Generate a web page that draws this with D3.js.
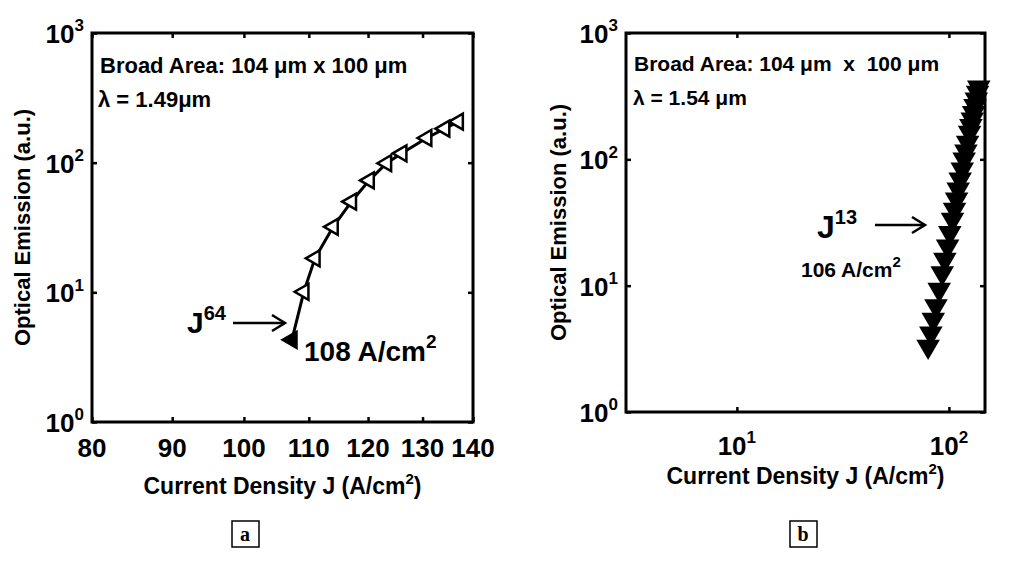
<!DOCTYPE html><html><head><meta charset="utf-8">
<script src="https://cdn.jsdelivr.net/npm/d3@7"></script>
<style>body{margin:0;background:#fff}text{font-family:"Liberation Sans",Arial,sans-serif;font-weight:bold}</style>
</head><body><svg id="c" width="1024" height="562"></svg>
<script>
const leftJ=[107.3,109.2,111,114,117.1,120.2,123.3,126.1,130.8,134.3,137];
const leftE=[4.3,10.1,18.3,32,50,73,99,118,155,183,207];
const rightJ=[79.8,82.2,84.4,86.9,90,93,95.7,98.6,101,104,106.3,108.7,110.6,113,115.6,118,120.3,122.5,125.2,127,128.9,130.8,132.8,134.6,136.5,138.3];
const rightE=[3.3,4.2,5.4,6.9,9.3,12.6,16.1,20.5,26.2,33.4,40.1,48.2,57.8,69.4,83.3,100,116,136,163,184,207,234,265,299,338,371];
const leftXTicks=[80,90,100,110,120,130,140];
const yTicks=[1,10,100,1000];
const rightXTicks=[10,100];

const svg=d3.select("#c");
function sup(sel,base,exp,bs,es){sel.append("tspan").text(base).attr("font-size",bs);sel.append("tspan").text(exp).attr("font-size",es).attr("dy",-bs*0.45);}

function frame(x0,x1,y0,y1,xs,ys,xt,xfmt,ylabX){
  const g=svg.append("g");
  g.append("g").attr("transform",`translate(0,${y1})`).call(d3.axisBottom(xs).tickValues(xt).tickSize(-5).tickFormat(""));
  g.append("g").attr("transform",`translate(0,${y0})`).call(d3.axisTop(xs).tickValues(xt).tickSize(-5).tickFormat(""));
  g.append("g").attr("transform",`translate(${x0},0)`).call(d3.axisLeft(ys).tickValues(yTicks).tickSize(-5).tickFormat(""));
  g.append("g").attr("transform",`translate(${x1},0)`).call(d3.axisRight(ys).tickValues(yTicks).tickSize(-5).tickFormat(""));
  g.selectAll(".domain").remove();
  g.selectAll(".tick line").attr("stroke","#000").attr("stroke-width",2.5);
  g.append("rect").attr("x",x0).attr("y",y0).attr("width",x1-x0).attr("height",y1-y0).attr("fill","none").attr("stroke","#000").attr("stroke-width",3);
  yTicks.forEach((v,i)=>{const t=g.append("text").attr("x",x0-8).attr("y",ys(v)+10).attr("text-anchor","end");sup(t,"10",String(i),26,17);});
  xfmt(g);
  g.append("text").attr("transform",`translate(${ylabX},${(y0+y1)/2}) rotate(-90)`).attr("text-anchor","middle").attr("font-size",22).text("Optical Emission (a.u.)");
  const xl=g.append("text").attr("x",(x0+x1)/2).attr("y",y1+72).attr("text-anchor","middle").attr("font-size",23);
  xl.append("tspan").text("Current Density J (A/cm");xl.append("tspan").text("2").attr("font-size",15).attr("dy",-10);xl.append("tspan").text(")").attr("dy",10);
  return g;
}
// left
const lx=d3.scaleLog().domain([80,140]).range([92,473]);
const ly=d3.scaleLog().domain([1,1000]).range([422,33]);
frame(92,473,33,422,lx,ly,leftXTicks,g=>{leftXTicks.forEach(v=>g.append("text").attr("x",lx(v)).attr("y",457).attr("text-anchor","middle").attr("font-size",26).text(v));},30);
svg.append("path").attr("d",d3.line().x((d,i)=>lx(leftJ[i])).y((d,i)=>ly(leftE[i]))(leftJ)).attr("fill","none").attr("stroke","#000").attr("stroke-width",3);
const tri=d3.symbol().type(d3.symbolTriangle).size(110);
leftJ.forEach((j,i)=>svg.append("path").attr("d",tri()).attr("transform",`translate(${lx(j)},${ly(leftE[i])}) rotate(-90)`).attr("fill",i==0?"#000":"#fff").attr("stroke","#000").attr("stroke-width",2.5));
svg.append("text").attr("x",100).attr("y",73).attr("font-size",22).text("Broad Area: 104 μm x 100 μm");
svg.append("text").attr("x",98).attr("y",107).attr("font-size",22).text("λ = 1.49μm");
const j64=svg.append("text").attr("x",187).attr("y",333);
sup(j64,"J","64",30,20);
svg.append("text").attr("x",304).attr("y",361).attr("font-size",28).call(t=>{t.append("tspan").text("108 A/cm");t.append("tspan").text("2").attr("font-size",19).attr("dy",-13);});
function arrow(x1,x2,y){svg.append("line").attr("x1",x1).attr("x2",x2).attr("y1",y).attr("y2",y).attr("stroke","#000").attr("stroke-width",2.5);
 svg.append("path").attr("d",`M${x2-13},${y-8}L${x2},${y}L${x2-13},${y+8}`).attr("fill","none").attr("stroke","#000").attr("stroke-width",2.5);}
arrow(233,285,323);
// right
const rx=d3.scaleLog().domain([3,148]).range([626,985]);
const ry=d3.scaleLog().domain([1,1000]).range([412,33]);
frame(626,985,33,412,rx,ry,rightXTicks,g=>{rightXTicks.forEach((v,i)=>{const t=g.append("text").attr("x",rx(v)).attr("y",455).attr("text-anchor","middle");sup(t,"10",String(i+1),26,17);});},566);
const tri2=d3.symbol().type(d3.symbolTriangle).size(240);
rightJ.forEach((j,i)=>svg.append("path").attr("d",tri2()).attr("transform",`translate(${rx(j)},${ry(rightE[i])}) rotate(180)`).attr("fill","#000"));
svg.append("text").attr("x",634).attr("y",71).attr("font-size",21).attr("xml:space","preserve").text("Broad Area: 104 μm  x  100 μm");
svg.append("text").attr("x",633).attr("y",105).attr("font-size",21).text("λ = 1.54 μm");
const j13=svg.append("text").attr("x",817).attr("y",238);sup(j13,"J","13",32,20);
arrow(875,925,225);
svg.append("text").attr("x",801).attr("y",277).attr("font-size",21).call(t=>{t.append("tspan").text("106 A/cm");t.append("tspan").text("2").attr("font-size",15).attr("dy",-10);});
[["a",245],["b",803]].forEach(([s,x])=>{svg.append("rect").attr("x",x-13).attr("y",521).attr("width",27).attr("height",26).attr("fill","#fff").attr("stroke","#000").attr("stroke-width",1.5);
 svg.append("text").attr("x",x).attr("y",541).attr("text-anchor","middle").attr("font-size",20).style("font-family","'Liberation Serif',serif").text(s);});
</script></body></html>
